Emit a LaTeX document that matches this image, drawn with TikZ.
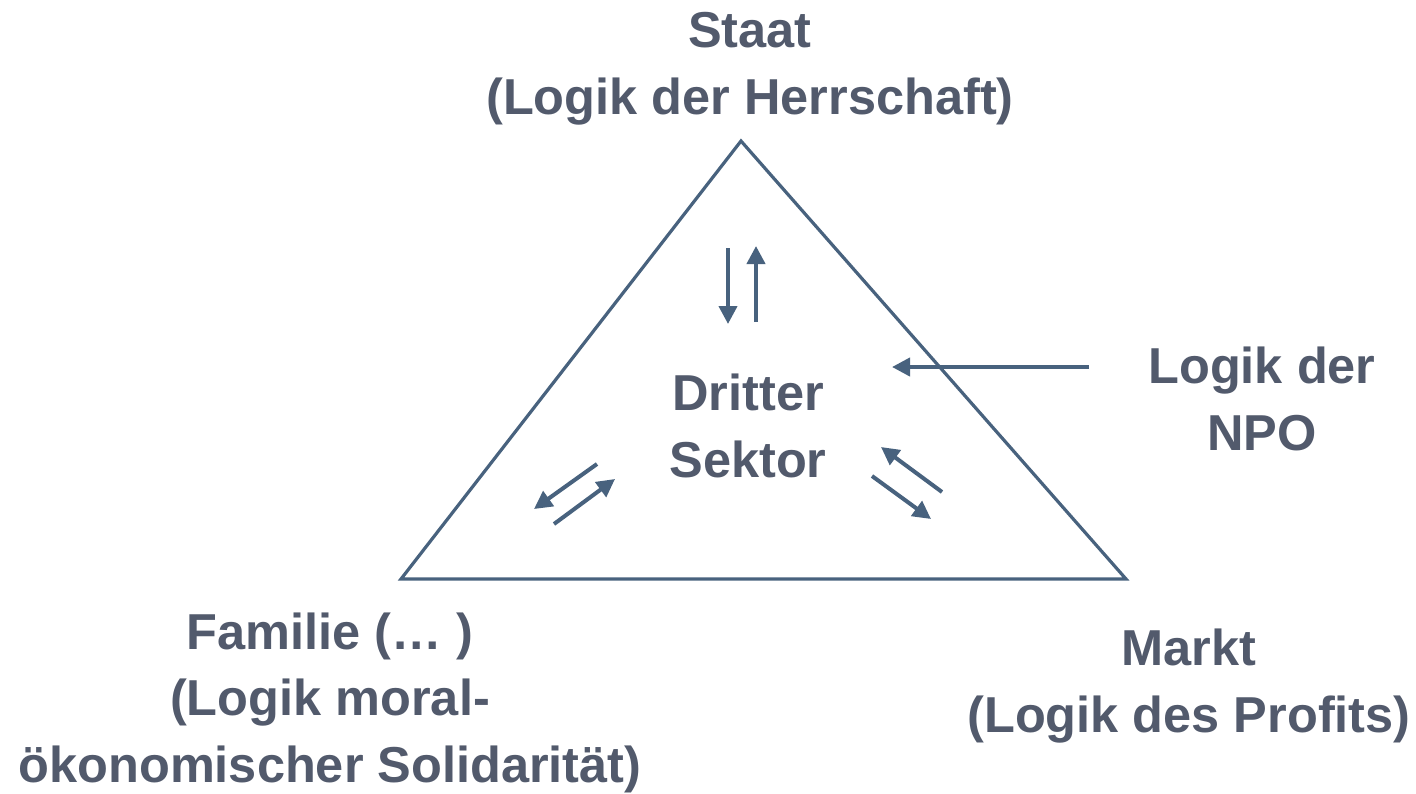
\documentclass[tikz,border=0pt]{standalone}
\usepackage{fontspec}
\setmainfont{Liberation Sans}
\usetikzlibrary{arrows.meta}
\definecolor{txtcol}{RGB}{82,90,108}
\definecolor{lincol}{RGB}{72,98,126}
\tikzset{
  lbl/.style={inner sep=0pt, align=center, text=txtcol,
    font=\fontsize{50.5}{66.5}\selectfont\bfseries, anchor=base},
  edge/.style={draw=lincol, line width=3.2pt, line join=miter},
  arr/.style={draw=lincol, line width=4pt, -{Triangle[length=18pt,width=18pt]}}
}
\begin{document}
\begin{tikzpicture}[x=1pt,y=-1pt]
\useasboundingbox (0,0) rectangle (1416,793);
% triangle
\coordinate (top) at (741,141);
\coordinate (bl) at (401,579);
\coordinate (br) at (1126,579);
\draw[edge] (top) -- (br) -- (bl) -- cycle;
% labels (anchor = baseline of last line)
\node[lbl] (staat) at (750,114) {Staat\\(Logik der Herrschaft)};
\node[lbl] (dritter) at (748,477) {Dritter\\Sektor};
\node[lbl] (npo) at (1262,450) {Logik der\\NPO};
\node[lbl] (familie) at (330,782) {Familie (… )\\(Logik moral-\\ökonomischer Solidarität)};
\node[lbl] (markt) at (1189,732) {Markt\\(Logik des Profits)};
% arrow end points
\coordinate (a1s) at (728,248); \coordinate (a1e) at (728,324);
\coordinate (a2s) at (756,322); \coordinate (a2e) at (756,246);
\coordinate (b1s) at (597,464); \coordinate (b1e) at (534,509);
\coordinate (b2s) at (554,524); \coordinate (b2e) at (615,479);
\coordinate (c1s) at (942,492); \coordinate (c1e) at (881,447);
\coordinate (c2s) at (872,476); \coordinate (c2e) at (931,519);
\coordinate (hs) at (1089,367); \coordinate (he) at (892,367);
\draw[arr] (a1s) -- (a1e);
\draw[arr] (a2s) -- (a2e);
\draw[arr] (b1s) -- (b1e);
\draw[arr] (b2s) -- (b2e);
\draw[arr] (c1s) -- (c1e);
\draw[arr] (c2s) -- (c2e);
\draw[arr] (hs) -- (he);
\end{tikzpicture}
\end{document}
